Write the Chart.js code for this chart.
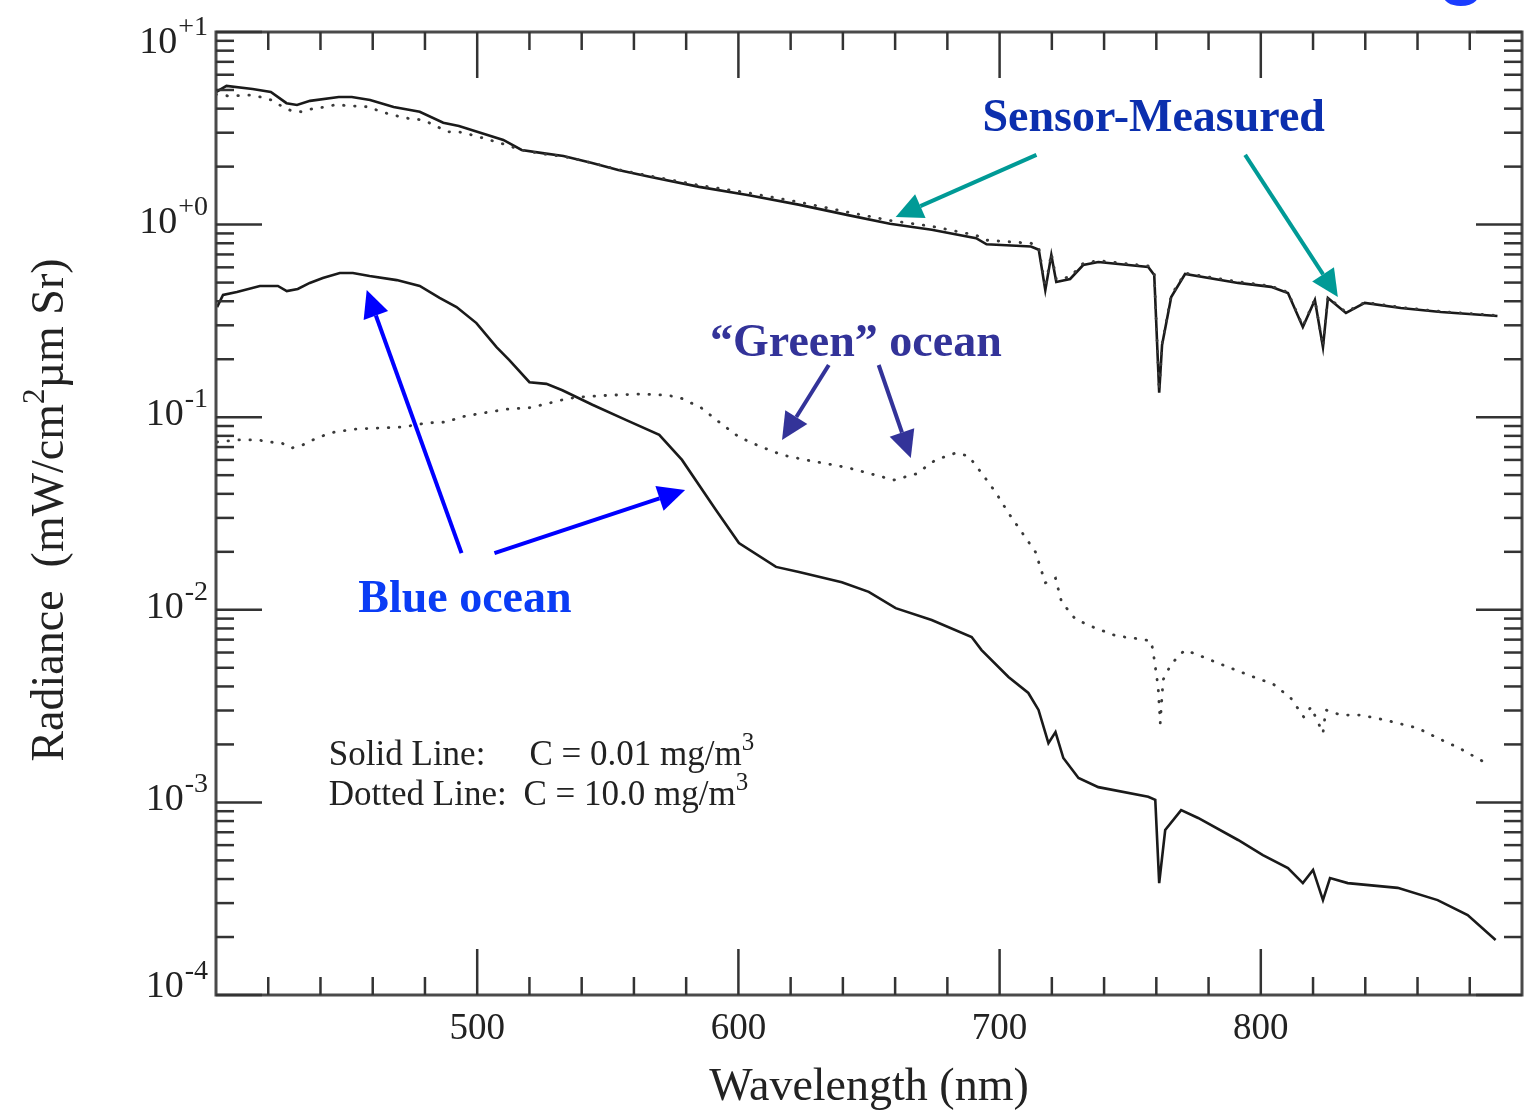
<!DOCTYPE html>
<html>
<head>
<meta charset="utf-8">
<script src="https://cdn.jsdelivr.net/npm/chart.js@4.4.1/dist/chart.umd.min.js"></script>
<style>
  html, body { margin: 0; padding: 0; background: #fff; }
  #wrap { width: 1524px; height: 1111px; position: relative; }
</style>
</head>
<body>
<div id="wrap"><canvas id="chart"></canvas></div>
<script>
// Sensor-measured radiance, C = 0.01 mg/m3 (solid)
const sensorClearNm = [400, 404, 414, 421, 427, 431, 436, 447, 452, 459, 468, 478, 487, 493, 510, 517, 525, 533, 544, 554, 566, 585, 604, 623, 642, 658, 674, 691, 695, 712, 715, 717.5, 719.8, 721.7, 727, 732, 737.8, 756.9, 759.2, 761.1, 762.2, 765.7, 771, 791.3, 803.9, 810.4, 816.1, 820.7, 823.8, 825.7, 832.6, 839.8, 853.6, 868.9, 890.6];
const sensorClearRad = [4.88, 5.25, 5.06, 4.88, 4.27, 4.18, 4.39, 4.60, 4.60, 4.44, 4.08, 3.85, 3.38, 3.25, 2.75, 2.44, 2.35, 2.27, 2.09, 1.92, 1.77, 1.57, 1.42, 1.27, 1.12, 1.01, 0.94, 0.85, 0.79, 0.77, 0.74, 0.457, 0.695, 0.504, 0.522, 0.617, 0.639, 0.603, 0.547, 0.134, 0.237, 0.421, 0.554, 0.498, 0.475, 0.441, 0.294, 0.406, 0.231, 0.416, 0.348, 0.392, 0.369, 0.352, 0.335];

// Sensor-measured radiance, C = 10.0 mg/m3 (dotted)
const sensorTurbidNm = [400, 405, 413, 417, 421, 425, 429, 433, 437, 442, 446, 450, 459, 463, 468, 472, 477, 481, 485, 489, 493, 498, 502, 506, 510, 517, 525, 533, 544, 554, 566, 585, 604, 623, 642, 658, 674, 691, 695, 712, 715, 717.5, 719.8, 721.7, 727, 732, 737.8, 756.9, 759.2, 761.1, 762.2, 765.7, 771, 791.3, 803.9, 810.4, 816.1, 820.7, 823.8, 825.7, 832.6, 839.8, 853.6, 868.9, 890.6];
const sensorTurbidRad = [4.75, 4.65, 4.70, 4.60, 4.44, 4.13, 3.89, 3.85, 4.00, 4.08, 4.20, 4.15, 4.08, 3.85, 3.71, 3.58, 3.53, 3.41, 3.21, 3.03, 3.03, 2.92, 2.82, 2.72, 2.62, 2.44, 2.33, 2.26, 2.09, 1.93, 1.79, 1.60, 1.46, 1.31, 1.16, 1.05, 0.98, 0.88, 0.83, 0.80, 0.76, 0.47, 0.71, 0.52, 0.535, 0.63, 0.65, 0.61, 0.555, 0.137, 0.24, 0.43, 0.56, 0.505, 0.48, 0.445, 0.297, 0.41, 0.233, 0.42, 0.351, 0.395, 0.372, 0.354, 0.337];

// Water-leaving radiance, blue ocean (solid)
const blueOceanNm = [400.4, 402.7, 408, 416.8, 423.7, 427.1, 431.3, 435.9, 440.9, 447.4, 452.4, 458.8, 469.2, 478, 485.6, 492.1, 499.7, 507.4, 512.3, 520, 526.5, 532.6, 544.1, 557.1, 569.7, 578.4, 591.4, 600.2, 614.4, 623.2, 639.6, 649.9, 660.2, 674, 689.3, 693.1, 703.4, 711, 714.9, 718.7, 721.4, 724.4, 730.2, 737.8, 756.9, 759.6, 761.1, 763.4, 769.5, 776, 791.3, 800.8, 810.4, 816.1, 820, 823.8, 826.5, 833.3, 852.4, 867.7, 879.2, 889.9];
const blueOceanRad = [0.373, 0.431, 0.447, 0.480, 0.480, 0.452, 0.463, 0.498, 0.528, 0.561, 0.561, 0.541, 0.515, 0.480, 0.416, 0.373, 0.308, 0.231, 0.198, 0.152, 0.149, 0.138, 0.116, 0.0966, 0.0809, 0.060, 0.033, 0.0222, 0.0167, 0.0157, 0.0139, 0.0124, 0.0102, 0.00885, 0.00722, 0.00618, 0.00448, 0.00370, 0.00302, 0.00203, 0.00232, 0.00170, 0.00134, 0.00120, 0.00107, 0.00103, 0.000381, 0.000719, 0.000912, 0.000830, 0.000638, 0.000533, 0.000456, 0.000381, 0.000446, 0.000311, 0.000405, 0.000381, 0.000360, 0.000311, 0.000260, 0.000193];

// Water-leaving radiance, "green" ocean (dotted)
const greenOceanNm = [400.4, 408, 416, 420.6, 425.2, 429, 433.2, 437.1, 441.7, 445.5, 453.9, 462.7, 471.5, 480.6, 488.7, 493.2, 502, 511.2, 520, 525, 532.6, 538, 550.6, 563.2, 572.3, 577.3, 585.7, 592.6, 600.2, 607.9, 616.7, 625.8, 634.6, 642.3, 651, 659.5, 667.9, 671.7, 675.5, 683.2, 688.1, 693.1, 698.4, 703.4, 708.4, 713.7, 717.5, 721.4, 723.7, 729, 736.6, 744.7, 753.8, 758, 758.8, 760.7, 761.5, 762.6, 765.3, 768.4, 771, 775.2, 783.6, 796.3, 804.7, 811.5, 816.5, 819.2, 823.8, 824.9, 830.7, 838.3, 847.5, 860.1, 867.7, 876.1, 887.6];
const greenOceanRad = [0.0743, 0.0762, 0.0762, 0.0743, 0.0734, 0.0692, 0.0718, 0.0762, 0.0809, 0.0838, 0.0869, 0.0879, 0.0889, 0.0933, 0.0944, 0.100, 0.105, 0.110, 0.112, 0.116, 0.123, 0.127, 0.130, 0.132, 0.130, 0.127, 0.112, 0.0944, 0.0789, 0.0709, 0.0637, 0.0600, 0.0571, 0.0545, 0.0507, 0.0472, 0.0507, 0.0551, 0.0600, 0.0652, 0.0629, 0.0513, 0.0409, 0.0318, 0.0254, 0.0200, 0.0138, 0.0146, 0.0110, 0.00895, 0.00805, 0.00732, 0.00705, 0.00689, 0.00604, 0.00397, 0.00258, 0.00433, 0.00511, 0.00575, 0.00618, 0.00589, 0.00529, 0.00453, 0.00412, 0.00348, 0.00277, 0.00313, 0.00229, 0.00302, 0.00284, 0.00284, 0.00268, 0.00243, 0.00216, 0.00191, 0.00156];

// axis ticks
const xMajorTicks = [500, 600, 700, 800];
const xMinorTicks = [420, 440, 460, 480, 520, 540, 560, 580, 620, 640, 660, 680, 720, 740, 760, 780, 820, 840, 860, 880];
const xTickLabels = ['500', '600', '700', '800'];
const yDecades = [10, 1, 0.1, 0.01, 0.001, 0.0001];
const yExponents = ['+1', '+0', '-1', '-2', '-3', '-4'];
const yMinorSteps = [2, 3, 4, 5, 6, 7, 8, 9];

// annotation anchors in data units (wavelength nm, radiance)
const notes = [
  { text: 'Sensor-Measured', x: 759, y: 3.06, color: '#0b2fae' },
  { text: '\u201cGreen\u201d ocean', x: 645, y: 0.208, color: '#333399' },
  { text: 'Blue ocean', x: 495.3, y: 0.00975, color: '#0a3cf5' }
];
const arrows = [
  { from: [714.1, 2.30], to: [660.2, 1.095], color: '#009a96' },
  { from: [794.0, 2.30], to: [829.5, 0.421], color: '#009a96' },
  { from: [634.6, 0.1866], to: [616.7, 0.0762], color: '#333399' },
  { from: [653.7, 0.1866], to: [666.0, 0.0614], color: '#333399' },
  { from: [494.0, 0.0197], to: [457.7, 0.457], color: '#0000ff' },
  { from: [506.6, 0.0197], to: [579.6, 0.0419], color: '#0000ff' }
];
const legendAnchor = { x: 443.2, line1: 0.00156, line2: 0.000969, cAt: 520 };

const SERIF = '"Liberation Serif", "Times New Roman", serif';
const toPoints = (nm, rad) => nm.map((x, i) => ({ x: x, y: rad[i] }));

// draw a run of text pieces, some raised as superscripts
const richText = (ctx, parts, x, y, align) => {
  let total = 0;
  parts.forEach(p => {
    ctx.font = (p.bold ? 'bold ' : '') + p.size + 'px ' + SERIF;
    p.w = ctx.measureText(p.t).width;
    total += p.w + (p.gap || 0);
  });
  let cx = x;
  if (align === 'center') cx = x - total / 2;
  if (align === 'right') cx = x - total;
  ctx.textAlign = 'left';
  ctx.textBaseline = 'alphabetic';
  parts.forEach(p => {
    ctx.font = (p.bold ? 'bold ' : '') + p.size + 'px ' + SERIF;
    ctx.fillText(p.t, cx + (p.gap || 0), y - (p.raise || 0));
    cx += p.w + (p.gap || 0);
  });
};

const drawArrow = (ctx, x1, y1, x2, y2, color) => {
  const ang = Math.atan2(y2 - y1, x2 - x1);
  const headLen = 27, headW = 26;
  const bx = x2 - headLen * Math.cos(ang);
  const by = y2 - headLen * Math.sin(ang);
  ctx.strokeStyle = color;
  ctx.fillStyle = color;
  ctx.lineWidth = 4;
  ctx.beginPath();
  ctx.moveTo(x1, y1);
  ctx.lineTo(bx, by);
  ctx.stroke();
  ctx.beginPath();
  ctx.moveTo(x2, y2);
  ctx.lineTo(bx + headW / 2 * Math.sin(ang), by - headW / 2 * Math.cos(ang));
  ctx.lineTo(bx - headW / 2 * Math.sin(ang), by + headW / 2 * Math.cos(ang));
  ctx.closePath();
  ctx.fill();
};

const framePlugin = {
  id: 'frame',
  afterDraw(chart) {
    const ctx = chart.ctx;
    const xs = chart.scales.x;
    const ys = chart.scales.y;
    const a = chart.chartArea;
    ctx.save();

    // box
    ctx.strokeStyle = '#4a4a4a';
    ctx.lineWidth = 3;
    ctx.strokeRect(a.left, a.top, a.right - a.left, a.bottom - a.top);

    // inward ticks
    ctx.strokeStyle = '#333';
    ctx.lineWidth = 2.5;
    const tick = (x1, y1, x2, y2) => { ctx.beginPath(); ctx.moveTo(x1, y1); ctx.lineTo(x2, y2); ctx.stroke(); };
    xMinorTicks.forEach(v => {
      const px = xs.getPixelForValue(v);
      tick(px, a.bottom, px, a.bottom - 18);
      tick(px, a.top, px, a.top + 18);
    });
    xMajorTicks.forEach(v => {
      const px = xs.getPixelForValue(v);
      tick(px, a.bottom, px, a.bottom - 46);
      tick(px, a.top, px, a.top + 46);
    });
    yDecades.forEach((d, i) => {
      const py = ys.getPixelForValue(d);
      tick(a.left, py, a.left + 46, py);
      tick(a.right, py, a.right - 46, py);
      if (i > 0) {
        yMinorSteps.forEach(k => {
          const my = ys.getPixelForValue(k * d);
          tick(a.left, my, a.left + 18, my);
          tick(a.right, my, a.right - 18, my);
        });
      }
    });

    // tick labels
    ctx.fillStyle = '#222';
    xMajorTicks.forEach((v, i) => {
      richText(ctx, [{ t: xTickLabels[i], size: 37 }], xs.getPixelForValue(v), a.bottom + 44, 'center');
    });
    yDecades.forEach((d, i) => {
      const py = ys.getPixelForValue(d);
      const base = Math.min(Math.max(py + 8, 53), 997);
      richText(ctx, [{ t: '10', size: 38 }, { t: yExponents[i], size: 28, raise: 18, gap: 1 }], 208, base, 'right');
    });

    // axis titles
    richText(ctx, [{ t: 'Wavelength (nm)', size: 46 }], (a.left + a.right) / 2, 1100, 'center');
    ctx.save();
    ctx.translate(63, 510);
    ctx.rotate(-Math.PI / 2);
    richText(ctx, [
      { t: 'Radiance  (mW/cm', size: 46 },
      { t: '2', size: 31, raise: 19 },
      { t: '\u00b5m Sr)', size: 46 }
    ], 0, 0, 'center');
    ctx.restore();

    // concentration key
    const lx = xs.getPixelForValue(legendAnchor.x);
    const cx = xs.getPixelForValue(legendAnchor.cAt);
    const l1 = ys.getPixelForValue(legendAnchor.line1);
    const l2 = ys.getPixelForValue(legendAnchor.line2);
    richText(ctx, [{ t: 'Solid Line:', size: 35 }], lx, l1, 'left');
    richText(ctx, [{ t: 'C = 0.01 mg/m', size: 35 }, { t: '3', size: 25, raise: 15 }], cx, l1, 'left');
    richText(ctx, [{ t: 'Dotted Line:', size: 35 }], lx, l2, 'left');
    richText(ctx, [{ t: 'C = 10.0 mg/m', size: 35 }, { t: '3', size: 25, raise: 15 }], cx - 6, l2, 'left');

    // callouts
    notes.forEach(n => {
      ctx.fillStyle = n.color;
      richText(ctx, [{ t: n.text, size: 46, bold: true }], xs.getPixelForValue(n.x), ys.getPixelForValue(n.y), 'center');
    });
    arrows.forEach(ar => {
      drawArrow(ctx,
        xs.getPixelForValue(ar.from[0]), ys.getPixelForValue(ar.from[1]),
        xs.getPixelForValue(ar.to[0]), ys.getPixelForValue(ar.to[1]), ar.color);
    });

    // descender of the slide title peeking in at the top right
    ctx.fillStyle = '#1a3cff';
    ctx.font = '92px "Liberation Sans", Arial, sans-serif';
    ctx.textAlign = 'left';
    ctx.fillText('g', 1436, -13);

    ctx.restore();
  }
};

const solidStyle = { borderColor: '#1a1a1a', borderWidth: 2.6, pointRadius: 0, showLine: true, tension: 0 };
const dottedStyle = { borderColor: '#3a3a3a', borderWidth: 2.8, borderDash: [0.5, 10.5], borderCapStyle: 'round', pointRadius: 0, showLine: true, tension: 0 };

new Chart(document.getElementById('chart').getContext('2d'), {
  type: 'scatter',
  data: {
    datasets: [
      Object.assign({ label: 'Sensor C=10.0', data: toPoints(sensorTurbidNm, sensorTurbidRad) }, dottedStyle),
      Object.assign({ label: 'Green ocean', data: toPoints(greenOceanNm, greenOceanRad) }, dottedStyle),
      Object.assign({ label: 'Sensor C=0.01', data: toPoints(sensorClearNm, sensorClearRad) }, solidStyle),
      Object.assign({ label: 'Blue ocean', data: toPoints(blueOceanNm, blueOceanRad) }, solidStyle)
    ]
  },
  options: {
    responsive: true,
    maintainAspectRatio: false,
    animation: false,
    layout: { padding: { left: 216, right: 2, top: 32, bottom: 116 } },
    plugins: { legend: { display: false }, tooltip: { enabled: false } },
    scales: {
      x: { type: 'linear', min: 400, max: 900, display: false },
      y: { type: 'logarithmic', min: 0.0001, max: 10, display: false }
    }
  },
  plugins: [framePlugin]
});
</script>
</body>
</html>
